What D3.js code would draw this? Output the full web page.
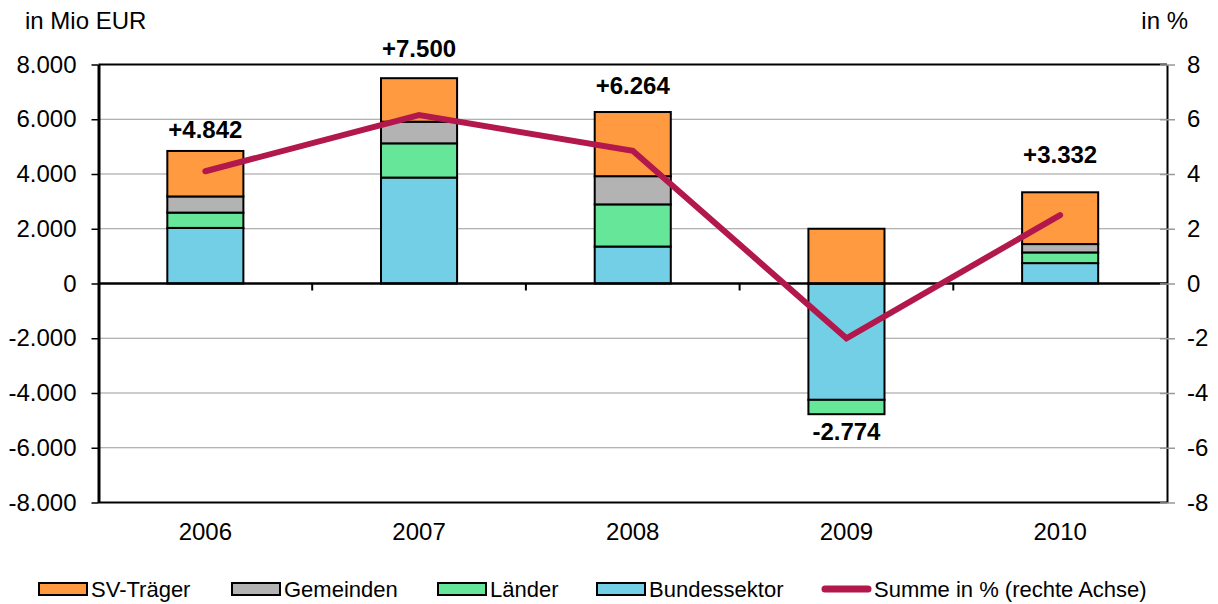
<!DOCTYPE html>
<html>
<head>
<meta charset="utf-8">
<script src="https://cdn.jsdelivr.net/npm/d3@7"></script>
<style>
  html, body { margin: 0; padding: 0; background: #fff; }
  svg { display: block; font-family: "Liberation Sans", Arial, sans-serif; }
</style>
</head>
<body>
<svg id="chart" width="1218" height="604"></svg>
<script>
// ---- data ----
const years = ["2006", "2007", "2008", "2009", "2010"];
const svTraeger = [1662, 1590, 2344, 2000, 1892];
const gemeinden = [590, 790, 1030, 0, 305];
const laender = [560, 1250, 1540, -524, 390];
const bundessektor = [2030, 3870, 1350, -4250, 745];
const summePct = [4.1, 6.15, 4.85, -2.0, 2.5];
const leftTicks = [-8000, -6000, -4000, -2000, 0, 2000, 4000, 6000, 8000];
const rightTicks = [-8, -6, -4, -2, 0, 2, 4, 6, 8];

// ---- layout ----
const W = 1218, H = 604;
const X0 = 98.5, X1 = 1167, YT = 64.5, YB = 502.5;
const labelGap = [13, 21, 18, 26, 29];
const colors = {
  sv: "#FF9A40", gem: "#B3B3B3", land: "#66E699", bund: "#73CFE6", line: "#B2184B"
};

const loc = d3.formatLocale({ decimal: ",", thousands: ".", grouping: [3], currency: ["", "€"], minus: "-" });
const fmt = loc.format(",d");
const fmtSigned = loc.format("+,d");

const svg = d3.select("#chart");

const x = d3.scaleBand().domain(years).range([X0, X1]).paddingInner(0.644).paddingOuter(0.322);
const step = x.step();
const yL = d3.scaleLinear().domain([-8000, 8000]).range([YB, YT]);
const yR = d3.scaleLinear().domain([-8, 8]).range([YB, YT]);

// gridlines
svg.append("g").selectAll("line")
  .data(leftTicks.filter(t => t !== 0 && Math.abs(t) !== 8000))
  .join("line")
  .attr("x1", X0).attr("x2", X1)
  .attr("y1", d => yL(d)).attr("y2", d => yL(d))
  .attr("stroke", "#9a9a9a").attr("stroke-width", 1.2);

// stacked bars
const keys = ["bund", "land", "gem", "sv"];
const rows = years.map((yr, i) => ({
  year: yr, bund: bundessektor[i], land: laender[i], gem: gemeinden[i], sv: svTraeger[i]
}));
const stack = d3.stack().keys(keys).offset(d3.stackOffsetDiverging)(rows);

svg.append("g").selectAll("g")
  .data(stack).join("g")
  .attr("fill", d => colors[d.key])
  .selectAll("rect")
  .data(d => d.filter(s => s[1] !== s[0]))
  .join("rect")
  .attr("x", d => x(d.data.year))
  .attr("width", x.bandwidth())
  .attr("y", d => yL(Math.max(d[0], d[1])))
  .attr("height", d => Math.abs(yL(d[0]) - yL(d[1])))
  .attr("stroke", "#000").attr("stroke-width", 2);

// zero line & category ticks
svg.append("line")
  .attr("x1", X0).attr("x2", X1).attr("y1", yL(0)).attr("y2", yL(0))
  .attr("stroke", "#000").attr("stroke-width", 2.5);
const boundaries = years.slice(1).map(yr => x(yr) - (step - x.bandwidth()) / 2);
svg.append("g").selectAll("line").data(boundaries).join("line")
  .attr("x1", d => d).attr("x2", d => d)
  .attr("y1", yL(0)).attr("y2", yL(0) + 7)
  .attr("stroke", "#000").attr("stroke-width", 2);

// frame
svg.append("line").attr("x1", X0).attr("x2", X1).attr("y1", YT).attr("y2", YT)
  .attr("stroke", "#000").attr("stroke-width", 2);
svg.append("line").attr("x1", X0).attr("x2", X1).attr("y1", YB).attr("y2", YB)
  .attr("stroke", "#000").attr("stroke-width", 2);

// left axis
const gl = svg.append("g").attr("transform", `translate(${X0},0)`)
  .call(d3.axisLeft(yL).tickValues(leftTicks).tickFormat(fmt).tickSizeInner(7).tickSizeOuter(0).tickPadding(15));
gl.select(".domain").attr("stroke", "#000").attr("stroke-width", 3);
gl.selectAll(".tick line").attr("stroke", "#000").attr("stroke-width", 1.5);
gl.selectAll(".tick text").attr("font-size", 24).attr("fill", "#000")
  .attr("font-family", "'Liberation Sans', Arial, sans-serif");

// right axis
const gr = svg.append("g").attr("transform", `translate(${X1},0)`)
  .call(d3.axisRight(yR).tickValues(rightTicks).tickFormat(loc.format("d")).tickSizeInner(8).tickSizeOuter(0).tickPadding(12));
gr.select(".domain").attr("stroke", "#000").attr("stroke-width", 2);
gr.selectAll(".tick line").attr("stroke", "#999").attr("stroke-width", 1.5).attr("x1", -7);
gr.selectAll(".tick text").attr("font-size", 24).attr("fill", "#000")
  .attr("font-family", "'Liberation Sans', Arial, sans-serif");

// category labels
svg.append("g").selectAll("text").data(years).join("text")
  .attr("x", d => x(d) + x.bandwidth() / 2)
  .attr("y", 540)
  .attr("text-anchor", "middle")
  .attr("font-size", 24).attr("fill", "#000")
  .text(d => d);

// line series
const line = d3.line()
  .x((d, i) => x(years[i]) + x.bandwidth() / 2)
  .y(d => yR(d));
svg.append("path").datum(summePct)
  .attr("d", line)
  .attr("fill", "none")
  .attr("stroke", colors.line).attr("stroke-width", 6)
  .attr("stroke-linecap", "round").attr("stroke-linejoin", "miter");

// total labels
const totals = years.map((yr, i) => svTraeger[i] + gemeinden[i] + laender[i] + bundessektor[i]);
svg.append("g").selectAll("text").data(totals).join("text")
  .attr("x", (d, i) => x(years[i]) + x.bandwidth() / 2)
  .attr("y", (d, i) => {
    if (d >= 0) {
      const top = d3.max(stack, s => s[i][1]);
      return yL(top) - labelGap[i];
    } else {
      const bot = d3.min(stack, s => s[i][0]);
      return yL(bot) + labelGap[i];
    }
  })
  .attr("text-anchor", "middle")
  .attr("font-size", 24).attr("font-weight", "bold").attr("fill", "#000")
  .text(d => fmtSigned(d));

// axis titles
svg.append("text").attr("x", 25).attr("y", 29).attr("font-size", 24).attr("fill", "#000").text("in Mio EUR");
svg.append("text").attr("x", 1188).attr("y", 29).attr("text-anchor", "end").attr("font-size", 24).attr("fill", "#000").text("in %");

// legend
const legendItems = [
  { label: "SV-Träger", key: "sv", x: 39, type: "rect" },
  { label: "Gemeinden", key: "gem", x: 232, type: "rect" },
  { label: "Länder", key: "land", x: 438, type: "rect" },
  { label: "Bundessektor", key: "bund", x: 597, type: "rect" },
  { label: "Summe in % (rechte Achse)", key: "line", x: 822, type: "line" }
];
const lg = svg.append("g");
legendItems.forEach(it => {
  if (it.type === "rect") {
    lg.append("rect").attr("x", it.x).attr("y", 583).attr("width", 48).attr("height", 12)
      .attr("fill", colors[it.key]).attr("stroke", "#000").attr("stroke-width", 2);
  } else {
    lg.append("line").attr("x1", it.x + 3).attr("x2", it.x + 46).attr("y1", 589).attr("y2", 589)
      .attr("stroke", colors.line).attr("stroke-width", 7).attr("stroke-linecap", "round");
  }
  lg.append("text").attr("x", it.x + 52).attr("y", 597)
    .attr("font-size", 22).attr("fill", "#000").text(it.label);
});
</script>
</body>
</html>
